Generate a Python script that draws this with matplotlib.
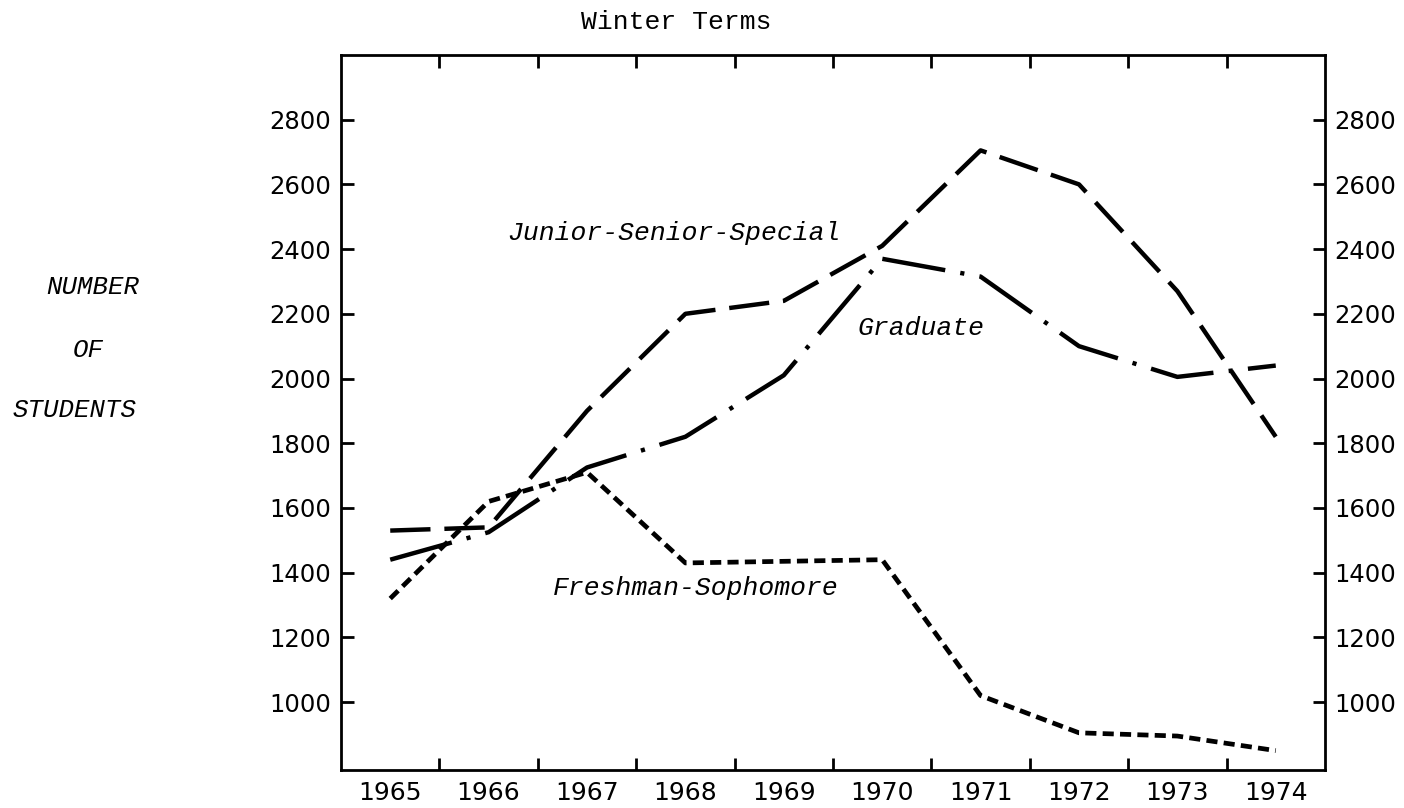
import numpy as np
import matplotlib
matplotlib.use('Agg')
import matplotlib.pyplot as plt

# Winter term enrolment by class level
anos = [1965, 1966, 1967, 1968, 1969, 1970, 1971, 1972, 1973, 1974]
calouros = [1320, 1620, 1710, 1430, 1435, 1440, 1020, 905, 895, 850]
junior_senior = [1530, 1540, 1900, 2200, 2240, 2410, 2705, 2600, 2270, 1820]
graduacao = [1440, 1525, 1725, 1820, 2010, 2370, 2315, 2100, 2005, 2040]

yticks = [1000, 1200, 1400, 1600, 1800, 2000, 2200, 2400, 2600, 2800]

plt.rcParams['lines.scale_dashes'] = False
mono = 'Liberation Mono'

fig = plt.figure(figsize=(14.04, 8.08), dpi=100)
ax = fig.add_axes([0.2429, 0.047, 0.7008, 0.885])

ax.plot(anos, junior_senior, color='black', lw=3.2, dashes=(29, 10))
ax.plot(anos, graduacao, color='black', lw=3.2, dashes=(46, 11, 3, 11))
ax.plot(anos, calouros, color='black', lw=3.4, dashes=(8, 4.5))

ax.set_xlim(1964.5, 1974.5)
ax.set_ylim(790, 3000)

# ticks between the years, labels centred on each year
ax.set_xticks(np.arange(1965.5, 1974, 1.0))
ax.set_xticklabels([])
ax.set_xticks(anos, minor=True)
ax.set_xticklabels([str(a) for a in anos], minor=True, fontsize=18)
ax.tick_params(axis='x', which='major', direction='in', top=True, bottom=True,
               length=9, width=2)
ax.tick_params(axis='x', which='minor', length=0, pad=8)

ax.set_yticks(yticks)
ax.set_yticklabels([str(v) for v in yticks], fontsize=17.5)
ax.tick_params(axis='y', direction='in', left=True, right=True, labelright=True,
               length=9, width=2, pad=7)

for s in ax.spines.values():
    s.set_linewidth(2)

ax.text(1966.19, 2451, 'Junior-Senior-Special', family=mono, style='italic',
        fontsize=19, ha='left', va='center')
ax.text(1969.75, 2157, 'Graduate', family=mono, style='italic',
        fontsize=19, ha='left', va='center')
ax.text(1966.65, 1353, 'Freshman-Sophomore', family=mono, style='italic',
        fontsize=19, ha='left', va='center')

fig.text(0.482, 0.973, 'Winter Terms', family=mono, fontsize=19,
         ha='center', va='center')
fig.text(0.066, 0.645, 'NUMBER', family=mono, style='italic', fontsize=18.5,
         ha='center', va='center')
fig.text(0.063, 0.567, 'OF', family=mono, style='italic', fontsize=18.5,
         ha='center', va='center')
fig.text(0.053, 0.493, 'STUDENTS', family=mono, style='italic', fontsize=18.5,
         ha='center', va='center')

plt.savefig('out.png', dpi=100)
